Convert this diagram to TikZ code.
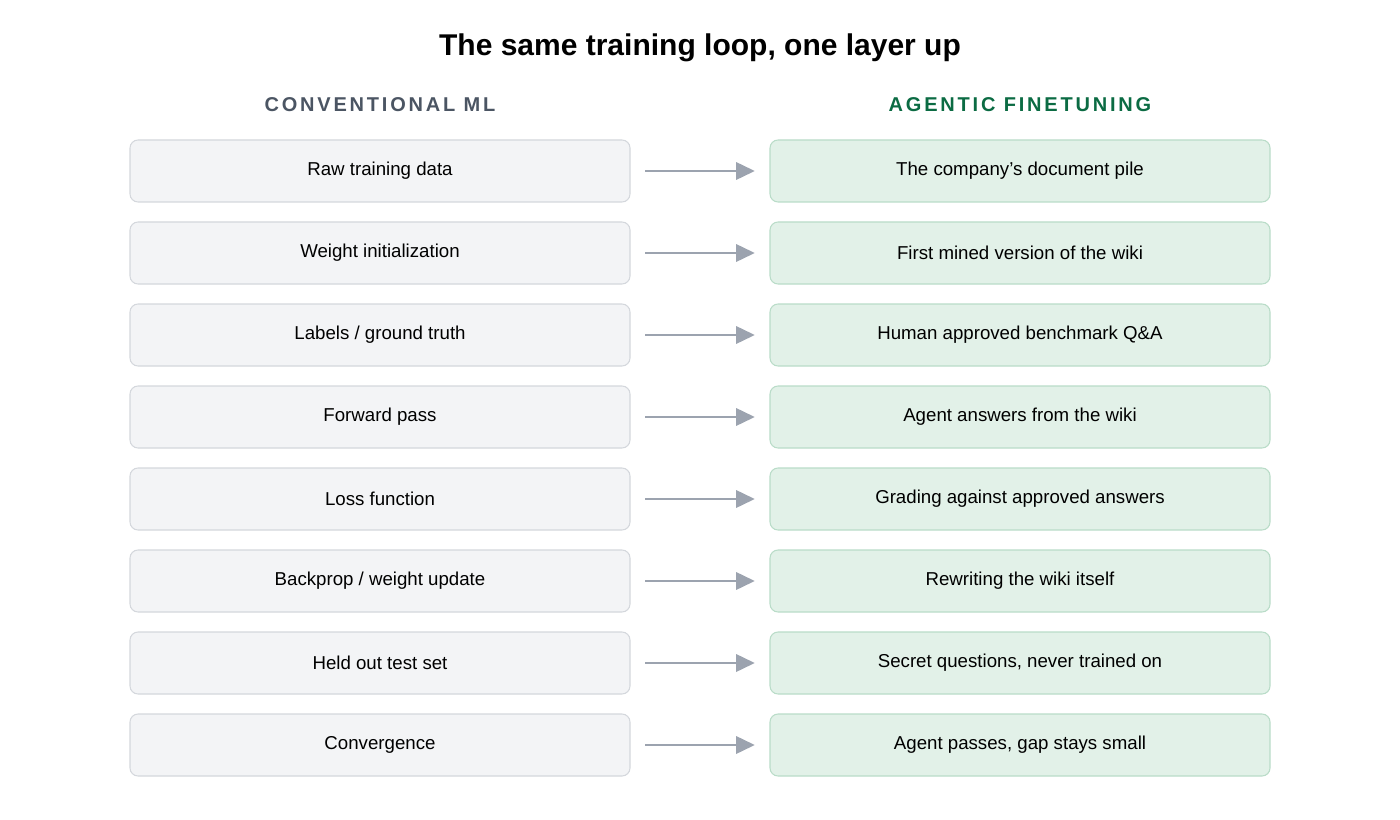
\documentclass[tikz,border=0pt]{standalone}
\usepackage{fontspec}
\setmainfont{Liberation Sans}
\usetikzlibrary{arrows.meta}
\usetikzlibrary{positioning}
\definecolor{leftfill}{HTML}{F3F4F6}
\definecolor{leftline}{HTML}{D4D7DC}
\definecolor{rightfill}{HTML}{E2F1E8}
\definecolor{rightline}{HTML}{B9DCC8}
\definecolor{headgray}{HTML}{4B5563}
\definecolor{headgreen}{HTML}{0B6B43}
\definecolor{arrowgray}{HTML}{9CA3AF}
\begin{document}
\begin{tikzpicture}[x=0.75pt,y=0.75pt,>/.tip={Triangle[length=14pt,width=13pt]},
	rowbox/.style={shape=rectangle,rounded corners=6pt,draw,line width=0.8pt,minimum width=375pt,minimum height=46.5pt,font=\fontsize{14}{16}\selectfont},
	conv/.style={rowbox,fill=leftfill,draw=leftline},
	agent/.style={rowbox,fill=rightfill,draw=rightline},
	head/.style={font=\fontsize{15}{18}\selectfont\bfseries\addfontfeatures{LetterSpace=14}}]
	\useasboundingbox (0,0) rectangle (1400,-820);
	\node (title) at (700,-48) {\fontsize{22.5}{26}\selectfont\bfseries The same training loop, one layer up};
	\node (hl) [head,text=headgray] at (380,-105) {CONVENTIONAL ML};
	\node (hr) [head,text=headgreen] at (1020,-105) {AGENTIC FINETUNING};
	\foreach \i/\a/\b in {1/Raw training data/The company's document pile,
		2/Weight initialization/First mined version of the wiki,
		3/Labels \slash{} ground truth/Human approved benchmark Q\&A,
		4/Forward pass/Agent answers from the wiki,
		5/Loss function/Grading against approved answers,
		6/Backprop \slash{} weight update/Rewriting the wiki itself,
		7/Held out test set/{Secret questions, never trained on},
		8/Convergence/{Agent passes, gap stays small}} {
		\node (c\i) [conv] at (380,-171-82*\i+82) {\a};
		\node (a\i) [agent] at (1020,-171-82*\i+82) {\b};
		\draw[->,draw=arrowgray,line width=1.8pt,shorten <=11pt,shorten >=11pt] (c\i) -- (a\i);
	}
\end{tikzpicture}
\end{document}
